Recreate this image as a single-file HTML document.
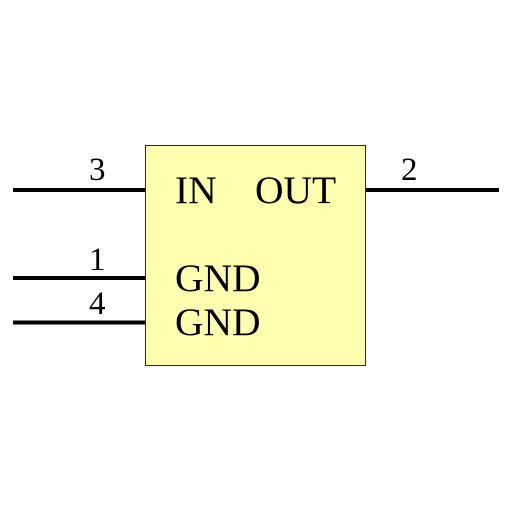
<!DOCTYPE html>
<html><head><meta charset="utf-8"><style>
html,body{margin:0;padding:0;background:#fff;width:512px;height:512px;overflow:hidden}
svg text{font-family:"Liberation Serif",serif;fill:#000}
</style></head><body>
<svg width="512" height="512" viewBox="0 0 512 512">
<rect x="145.5" y="145.5" width="220" height="220" fill="#ffffb0" stroke="#800000" stroke-width="1"/>
<g stroke="#000" stroke-width="4">
<line x1="13" y1="190" x2="145" y2="190"/>
<line x1="13" y1="278" x2="145" y2="278"/>
<line x1="13" y1="322.5" x2="145" y2="322.5"/>
<line x1="366" y1="190" x2="499" y2="190"/>
</g>
<g font-size="33">
<text x="89" y="180">3</text>
<text x="89" y="270">1</text>
<text x="89" y="314">4</text>
<text x="401" y="180">2</text>
</g>
<g font-size="39.5">
<text x="175" y="203">IN</text>
<text x="255" y="203">OUT</text>
<text x="175" y="291">GND</text>
<text x="175" y="335">GND</text>
</g>
</svg>
</body></html>
